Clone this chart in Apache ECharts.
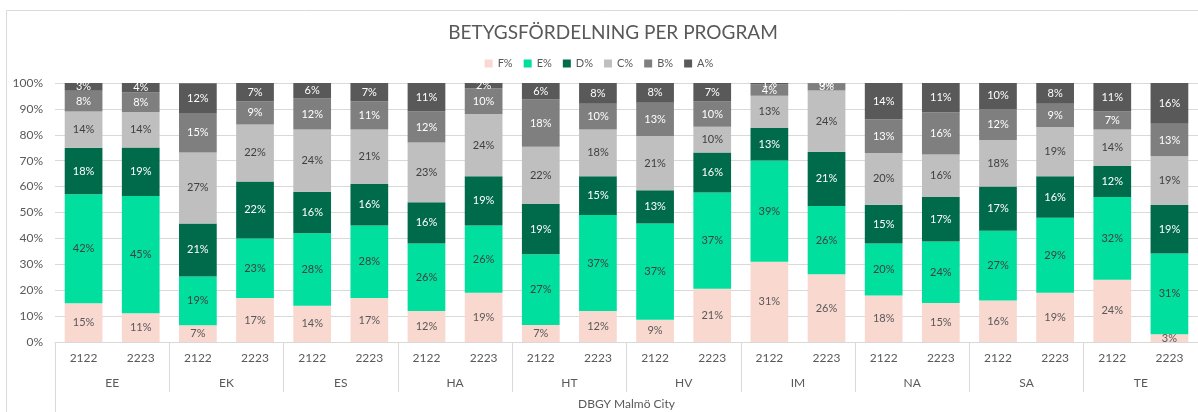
<!DOCTYPE html>
<html>
<head>
<meta charset="utf-8">
<script src="https://cdn.jsdelivr.net/npm/echarts@6/dist/echarts.min.js"></script>
<style>
  html, body { margin: 0; padding: 0; background: #fff; }
  #chart { width: 1198px; height: 412px; }
</style>
</head>
<body>
<div id="chart"></div>
<script>
// programs and school years
const programs = ['EE', 'EK', 'ES', 'HA', 'HT', 'HV', 'IM', 'NA', 'SA', 'TE']
const years = ['2122', '2223']
const school = ['DBGY Malmö City']

// share of grades (%) per bar, order EE 2122, EE 2223, EK 2122 ...
const fShare = [15, 11.1, 6.5, 17, 14, 17, 12, 19, 6.6, 12, 8.6, 20.6, 31, 26.2, 18, 15.1, 16, 19, 24, 3]
const eShare = [42, 45.3, 18.8, 23, 28, 28, 26, 26, 27.3, 37, 37.2, 37.1, 39.1, 26.3, 20, 23.7, 27, 29, 32, 31.2]
const dShare = [18, 18.7, 20.5, 22, 16, 16, 16, 19, 19.4, 15, 12.8, 15.5, 12.5, 21, 15, 17.2, 17, 16, 12, 18.7]
const cShare = [14, 13.7, 27.4, 22, 24, 21, 23, 24, 22.1, 18, 20.9, 9.9, 12.5, 23.6, 20, 16.4, 18, 19, 14, 18.8]
const bShare = [8, 7.5, 15.2, 9, 12, 11, 12, 10, 18.2, 10, 12.9, 9.8, 4.3, 2.8, 13, 16.3, 12, 9, 7, 12.6]
const aShare = [3, 3.7, 11.5, 7, 6, 7, 11, 2, 6.4, 8, 7.6, 7.1, 0.6, 0.1, 14, 11.3, 10, 8, 11, 15.7]

const gradeNames = ['F%', 'E%', 'D%', 'C%', 'B%', 'A%']
const gradeColors = ['#f8d8cf', '#00df9d', '#006b4b', '#bfbfbf', '#7f7f7f', '#595959']
const labelColors = ['#595959', '#404040', '#ffffff', '#404040', '#ffffff', '#ffffff']
const gradeData = [fShare, eShare, dShare, cShare, bShare, aShare]

const yearCats = []
programs.forEach(() => years.forEach(y => yearCats.push(y)))

const textColor = '#595959'
const lineColor = '#d9d9d9'
const font = 'Lato'

const myChart = echarts.init(document.getElementById('chart'))
myChart.setOption({
    animation: false,
    textStyle: { fontFamily: font },
    graphic: [{
        type: 'rect',
        shape: { x: 6.5, y: 10.5, width: 1400, height: 600 },
        style: { fill: 'none', stroke: lineColor, lineWidth: 1 },
        silent: true
    }],
    title: {
        text: 'BETYGSFÖRDELNING PER PROGRAM',
        left: 608,
        top: 18,
        textAlign: 'center',
        textStyle: { color: textColor, fontSize: 19, fontWeight: 'normal', fontFamily: font }
    },
    legend: {
        data: gradeNames,
        top: 53,
        left: 'center',
        itemWidth: 8,
        itemHeight: 8,
        itemGap: 11,
        icon: 'rect',
        textStyle: { color: textColor, fontSize: 11, fontFamily: font }
    },
    grid: { left: 55, right: 0, top: 83, bottom: 70 },
    xAxis: [
        {
            type: 'category',
            data: yearCats,
            axisLine: { lineStyle: { color: lineColor } },
            axisTick: { show: false },
            axisLabel: { interval: 0, color: textColor, fontSize: 12, margin: 10, fontFamily: font }
        },
        {
            type: 'category',
            data: programs,
            position: 'bottom',
            axisLine: { show: false },
            axisTick: { show: true, length: 50, lineStyle: { color: lineColor } },
            axisLabel: { interval: 0, color: textColor, fontSize: 12, margin: 35, fontFamily: font }
        },
        {
            type: 'category',
            data: school,
            position: 'bottom',
            axisLine: { show: false },
            axisTick: { show: true, length: 75, lineStyle: { color: lineColor } },
            axisLabel: { interval: 0, color: textColor, fontSize: 12, margin: 56, fontFamily: font }
        }
    ],
    yAxis: {
        type: 'value',
        min: 0,
        max: 100,
        interval: 10,
        axisLine: { show: false },
        axisTick: { show: false },
        axisLabel: { formatter: '{value}%', color: textColor, fontSize: 12, margin: 12, fontFamily: font },
        splitLine: { lineStyle: { color: lineColor } }
    },
    series: gradeNames.map((name, i) => ({
        name: name,
        type: 'bar',
        stack: 'total',
        xAxisIndex: 0,
        barWidth: '66%',
        data: gradeData[i],
        itemStyle: { color: gradeColors[i] },
        label: {
            show: true,
            position: 'inside',
            color: labelColors[i],
            fontSize: 11,
            fontFamily: font,
            formatter: p => Math.round(p.value) + '%'
        }
    }))
})
</script>
</body>
</html>
